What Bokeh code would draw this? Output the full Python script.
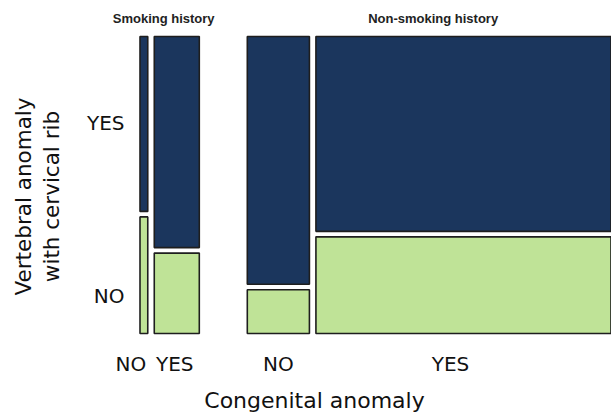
import numpy as np
from bokeh.plotting import figure
from bokeh.models import Range1d, ColumnDataSource
from bokeh.core.properties import value
from bokeh.embed import file_html
from bokeh.resources import INLINE

# ---------------- data ----------------
panels = ["Smoking history", "Non-smoking history"]
congenital = ["NO", "YES"]            # x categories within each panel
vertebral = ["YES", "NO"]             # stacked categories (top, bottom)
# counts: vertebral YES / NO for congenital NO, YES
smoking_vert_yes = [3, 21]
smoking_vert_no = [2, 8]
nonsmoking_vert_yes = [34, 127]
nonsmoking_vert_no = [6, 63]
x_title = "Congenital anomaly"
y_title = "Vertebral anomaly\nwith cervical rib"

# ---------------- layout / style ----------------
X0, X_END = 139.5, 610.5
GAP_IN, GAP_PANEL = 6.5, 48.0
Y_TOP, Y_BOT, GAP_V = 36.0, 333.0, 5.5
DARK, LIGHT, EDGE = "#1b365d", "#bfe397", "#1e1e1e"

counts = [(smoking_vert_yes, smoking_vert_no), (nonsmoking_vert_yes, nonsmoking_vert_no)]
total = sum(sum(a) + sum(b) for a, b in counts)
k = (X_END - X0 - 2 * GAP_IN - GAP_PANEL) / total
H = Y_BOT - Y_TOP - GAP_V

rects = dict(left=[], right=[], top=[], bottom=[], color=[])
xlab = dict(x=[], text=[], off=[])
ptitle = dict(x=[], text=[], off=[])
label_offsets = [[-13, -2], [0, -13]]
title_offsets = [-6, 4]

x = X0
for pi, (yes, no) in enumerate(counts):
    p_left = x
    for ci in range(len(congenital)):
        n = yes[ci] + no[ci]
        w = n * k
        split = Y_TOP + yes[ci] / n * H
        rects["left"] += [x, x]
        rects["right"] += [x + w, x + w]
        rects["top"] += [Y_TOP, split + GAP_V]
        rects["bottom"] += [split, Y_BOT]
        rects["color"] += [DARK, LIGHT]
        xlab["x"].append(x + w / 2)
        xlab["text"].append(congenital[ci])
        xlab["off"].append(label_offsets[pi][ci])
        x += w
        if ci < len(congenital) - 1:
            x += GAP_IN
    ptitle["x"].append((p_left + x) / 2)
    ptitle["text"].append(panels[pi])
    ptitle["off"].append(title_offsets[pi])
    x += GAP_PANEL

p = figure(width=611, height=415, output_backend="svg", toolbar_location=None,
           x_range=Range1d(0, 611), y_range=Range1d(415, 0),
           x_axis_type=None, y_axis_type=None, min_border=0,
           min_border_left=0, min_border_right=0, min_border_top=0, min_border_bottom=0)
p.grid.visible = False
p.outline_line_color = None
p.background_fill_color = "white"
p.border_fill_color = "white"

p.quad(source=ColumnDataSource(rects), left="left", right="right", top="top", bottom="bottom",
       fill_color="color", line_color=EDGE, line_width=1.6)

# x category labels
p.text(source=ColumnDataSource(xlab), x="x", y=363, text="text", x_offset="off",
       text_font=value("DejaVu Sans"), text_font_size="20px", text_color="#111111",
       text_align="center", text_baseline="middle")

# y category labels
ytick_pos = [Y_TOP + 0.29 * (Y_BOT - Y_TOP), Y_TOP + 0.875 * (Y_BOT - Y_TOP)]
p.text(x=[124, 124], y=ytick_pos, text=vertebral,
       text_font=value("DejaVu Sans"), text_font_size="20px", text_color="#111111",
       text_align="right", text_baseline="middle")

# panel titles
p.text(source=ColumnDataSource(ptitle), x="x", y=18, text="text", x_offset="off",
       text_font=value("Liberation Sans"), text_font_style="bold", text_font_size="13px",
       text_color="#222222", text_align="center", text_baseline="middle")

# axis titles
p.text(x=[314], y=400, text=[x_title], text_font=value("DejaVu Sans"), text_font_size="22px",
       text_color="#111111", text_align="center", text_baseline="middle")
p.text(x=[37], y=196, text=[y_title], angle=np.pi / 2, text_font=value("DejaVu Sans"),
       text_font_size="21.5px", text_color="#111111", text_align="center",
       text_baseline="middle", text_line_height=1.1)

open("out.html", "w").write(file_html(p, INLINE))
